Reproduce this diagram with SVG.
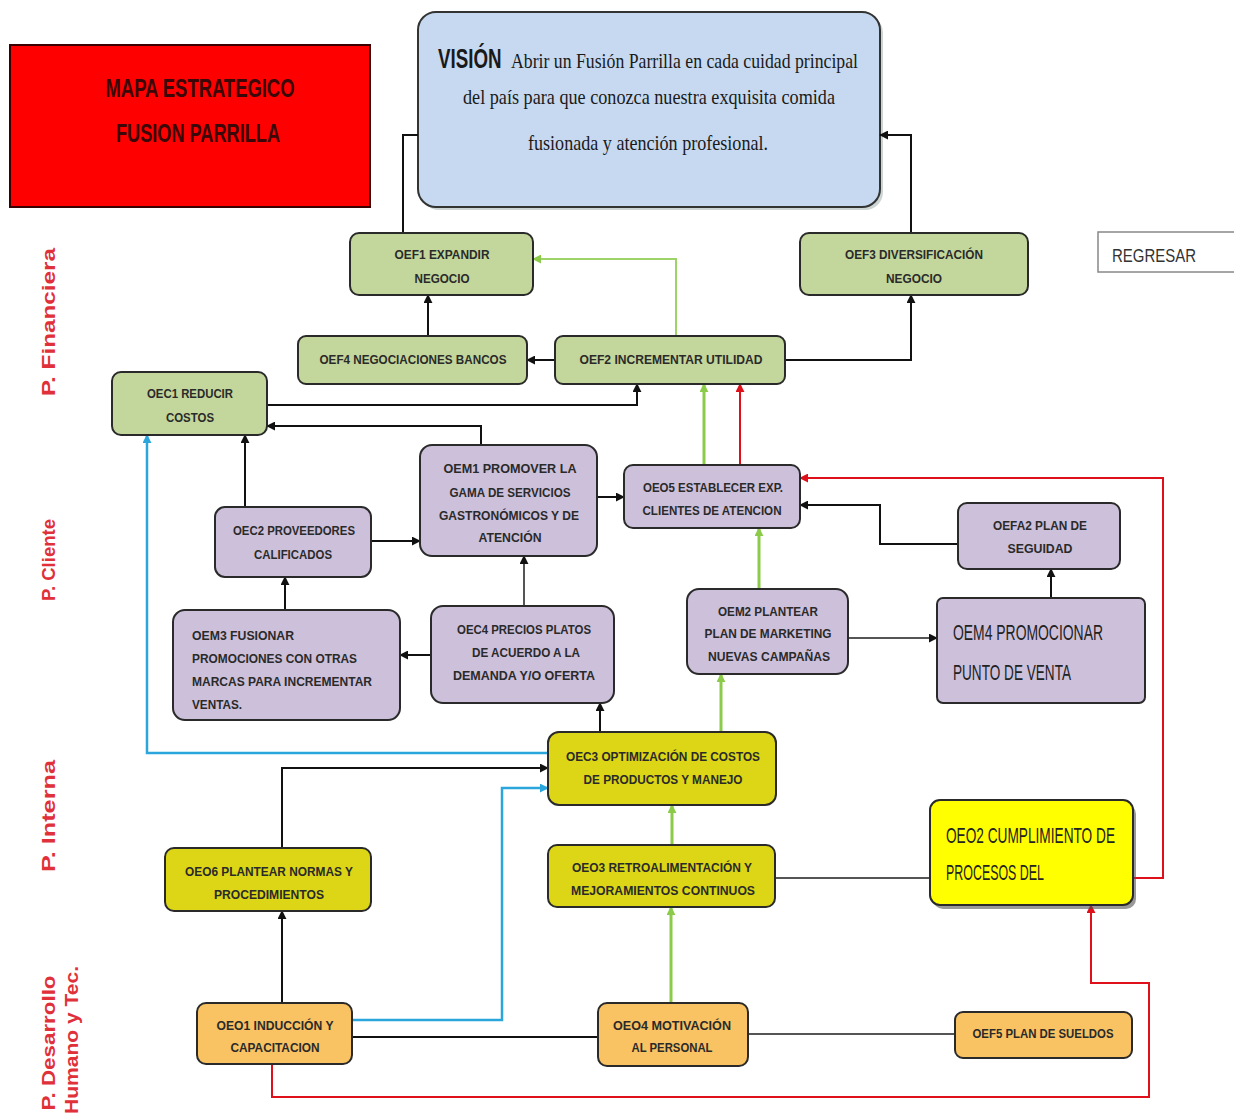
<svg xmlns="http://www.w3.org/2000/svg" width="1234" height="1119" viewBox="0 0 1234 1119">
<defs>
<marker id="ak" viewBox="0 0 10 10" refX="9" refY="5" markerWidth="9" markerHeight="9" markerUnits="userSpaceOnUse" orient="auto"><path d="M0,0 L10,5 L0,10 z" fill="#111"/></marker>
<marker id="ag" viewBox="0 0 10 10" refX="9" refY="5" markerWidth="9" markerHeight="9" markerUnits="userSpaceOnUse" orient="auto"><path d="M0,0 L10,5 L0,10 z" fill="#8ccb4a"/></marker>
<marker id="ar" viewBox="0 0 10 10" refX="9" refY="5" markerWidth="9" markerHeight="9" markerUnits="userSpaceOnUse" orient="auto"><path d="M0,0 L10,5 L0,10 z" fill="#e0101a"/></marker>
<marker id="ac" viewBox="0 0 10 10" refX="9" refY="5" markerWidth="9" markerHeight="9" markerUnits="userSpaceOnUse" orient="auto"><path d="M0,0 L10,5 L0,10 z" fill="#2aa6dc"/></marker>
</defs>
<style>
.box{stroke:#2a2a2a;stroke-width:2}
.g{fill:#c3d69b}
.p{fill:#ccc0da}
.y{fill:#dcd616}
.o{fill:#f9c262}
.t{font-family:"Liberation Sans",Arial,sans-serif;font-weight:bold;font-size:12.5px;fill:#2a2a2a;text-anchor:middle}
.tl{font-family:"Liberation Sans",Arial,sans-serif;font-weight:bold;font-size:12.5px;fill:#2a2a2a}
.big{font-family:"Liberation Sans",Arial,sans-serif;font-size:22px;fill:#222}
.lane{font-family:"Liberation Sans",Arial,sans-serif;font-weight:bold;font-size:19px;fill:#e0303a}
.k{fill:none;stroke:#111;stroke-width:2}
.gr{fill:none;stroke:#555;stroke-width:2}
.gn{fill:none;stroke:#8ccb4a;stroke-width:3}
.gn2{fill:none;stroke:#9ed36a;stroke-width:2}
.rd{fill:none;stroke:#e0101a;stroke-width:2}
.cy{fill:none;stroke:#2aa6dc;stroke-width:2.5}
</style>

<g id="title">
<rect x="10" y="45" width="360" height="162" fill="#ff0000" stroke="#3a0000" stroke-width="2"/>
<text x="200" y="97" font-family="'Liberation Sans',Arial,sans-serif" font-weight="bold" font-size="26" fill="#3a0808" text-anchor="middle" textLength="189" lengthAdjust="spacingAndGlyphs">MAPA ESTRATEGICO</text>
<text x="198" y="142" font-family="'Liberation Sans',Arial,sans-serif" font-weight="bold" font-size="26" fill="#3a0808" text-anchor="middle" textLength="164" lengthAdjust="spacingAndGlyphs">FUSION PARRILLA</text>
</g>

<g id="vision">
<rect x="421" y="15" width="462" height="195" rx="18" fill="#9aa" opacity="0.5"/>
<rect x="418" y="12" width="462" height="195" rx="18" fill="#c6d9f0" stroke="#333" stroke-width="2"/>
<text transform="translate(438,68) scale(0.67,1)" font-family="'Liberation Sans',Arial,sans-serif" font-weight="bold" font-size="28" fill="#1a1a1a">VISIÓN</text>
<text x="511" y="68" font-family="'Liberation Serif','Times New Roman',serif" font-size="22" fill="#1a1a1a" textLength="347" lengthAdjust="spacingAndGlyphs">Abrir un Fusión Parrilla en cada cuidad principal</text>
<text x="463" y="104" font-family="'Liberation Serif','Times New Roman',serif" font-size="22" fill="#1a1a1a" textLength="372" lengthAdjust="spacingAndGlyphs">del país para que conozca nuestra  exquisita comida</text>
<text x="528" y="150" font-family="'Liberation Serif','Times New Roman',serif" font-size="22" fill="#1a1a1a" textLength="240" lengthAdjust="spacingAndGlyphs">fusionada y atención profesional.</text>
</g>

<g id="lanes">
<text class="lane" transform="translate(55,322) rotate(-90)" text-anchor="middle" textLength="148" lengthAdjust="spacingAndGlyphs">P. Financiera</text>
<text class="lane" transform="translate(55,560) rotate(-90)" text-anchor="middle" textLength="82" lengthAdjust="spacingAndGlyphs">P. Cliente</text>
<text class="lane" transform="translate(55,816) rotate(-90)" text-anchor="middle" textLength="112" lengthAdjust="spacingAndGlyphs">P. Interna</text>
<text class="lane" transform="translate(55,1043) rotate(-90)" text-anchor="middle" textLength="135" lengthAdjust="spacingAndGlyphs">P. Desarrollo</text>
<text class="lane" transform="translate(78,1040) rotate(-90)" text-anchor="middle" textLength="148" lengthAdjust="spacingAndGlyphs">Humano y Tec.</text>
</g>

<g id="regresar">
<rect x="1098" y="232" width="140" height="40" fill="#fff" stroke="#888" stroke-width="1.5"/>
<text x="1112" y="262" font-family="'Liberation Sans',Arial,sans-serif" font-size="18" fill="#333" textLength="84" lengthAdjust="spacingAndGlyphs">REGRESAR</text>
</g>

<g id="connectors">
<path class="k" d="M403,233 V135 H418"/>
<path class="k" d="M911,233 V135 H880" marker-end="url(#ak)"/>
<path class="k" d="M428,336 V295" marker-end="url(#ak)"/>
<path class="k" d="M555,360 H527" marker-end="url(#ak)"/>
<path class="gn2" d="M676,336 V259 H533" marker-end="url(#ag)"/>
<path class="k" d="M785,360 H911 V295" marker-end="url(#ak)"/>
<path class="k" d="M267,405 H637 V384" marker-end="url(#ak)"/>
<path class="k" d="M481,445 V426 H267" marker-end="url(#ak)"/>
<path class="k" d="M245,507 V435" marker-end="url(#ak)"/>
<path class="cy" d="M548,753 H147 V435" marker-end="url(#ac)"/>
<path class="gn" d="M704,465 V384" marker-end="url(#ag)"/>
<path class="rd" d="M740,465 V384" marker-end="url(#ar)"/>
<path class="rd" d="M1133,878 H1163 V478 H800" marker-end="url(#ar)"/>
<path class="k" d="M958,544 H880 V505 H800" marker-end="url(#ak)"/>
<path class="k" d="M597,497 H624" stroke-width="3" marker-end="url(#ak)"/>
<path class="k" d="M371,541 H420" marker-end="url(#ak)"/>
<path class="k" d="M285,610 V577" marker-end="url(#ak)"/>
<path class="gr" d="M524,606 V556" marker-end="url(#ak)"/>
<path class="k" d="M431,655 H400" marker-end="url(#ak)"/>
<path class="gn" d="M759,589 V528" marker-end="url(#ag)"/>
<path class="gr" d="M848,638 H937" stroke-width="2.5" marker-end="url(#ak)"/>
<path class="k" d="M1051,598 V569" marker-end="url(#ak)"/>
<path class="k" d="M600,732 V703" marker-end="url(#ak)"/>
<path class="gn" d="M721,732 V674" marker-end="url(#ag)"/>
<path class="k" d="M282,848 V768 H548" marker-end="url(#ak)"/>
<path class="cy" d="M352,1020 H502 V788 H548" marker-end="url(#ac)"/>
<path class="gn" d="M672,845 V805" marker-end="url(#ag)"/>
<path class="gr" d="M775,878 H930"/>
<path class="k" d="M282,1003 V911" marker-end="url(#ak)"/>
<path class="gn" d="M671,1003 V907" marker-end="url(#ag)"/>
<path class="k" d="M352,1037 H598" stroke-width="3"/>
<path class="gr" d="M748,1034 H955"/>
<path class="rd" d="M272,1064 V1097 H1149 V983 H1091 V905" marker-end="url(#ar)"/>
</g>

<g id="OEF1"><rect class="box g" x="350" y="233" width="183" height="62" rx="9"/>
<text class="t" x="442" y="259" textLength="95" lengthAdjust="spacingAndGlyphs">OEF1 EXPANDIR</text>
<text class="t" x="442" y="283" textLength="55" lengthAdjust="spacingAndGlyphs">NEGOCIO</text></g>

<g id="OEF3"><rect class="box g" x="800" y="233" width="228" height="62" rx="9"/>
<text class="t" x="914" y="259" textLength="138" lengthAdjust="spacingAndGlyphs">OEF3 DIVERSIFICACIÓN</text>
<text class="t" x="914" y="283" textLength="56" lengthAdjust="spacingAndGlyphs">NEGOCIO</text></g>

<g id="OEF4"><rect class="box g" x="298" y="336" width="229" height="48" rx="8"/>
<text class="t" x="413" y="364" textLength="187" lengthAdjust="spacingAndGlyphs">OEF4 NEGOCIACIONES BANCOS</text></g>

<g id="OEF2"><rect class="box g" x="555" y="336" width="230" height="48" rx="8"/>
<text class="t" x="671" y="364" textLength="183" lengthAdjust="spacingAndGlyphs">OEF2 INCREMENTAR UTILIDAD</text></g>

<g id="OEC1"><rect class="box g" x="112" y="372" width="155" height="63" rx="9"/>
<text class="t" x="190" y="398" textLength="86" lengthAdjust="spacingAndGlyphs">OEC1 REDUCIR</text>
<text class="t" x="190" y="422" textLength="48" lengthAdjust="spacingAndGlyphs">COSTOS</text></g>

<g id="OEM1"><rect class="box p" x="420" y="445" width="177" height="111" rx="12"/>
<text class="t" x="510" y="473" textLength="133" lengthAdjust="spacingAndGlyphs">OEM1 PROMOVER  LA</text>
<text class="t" x="510" y="497" textLength="121" lengthAdjust="spacingAndGlyphs">GAMA DE SERVICIOS</text>
<text class="t" x="509" y="520" textLength="140" lengthAdjust="spacingAndGlyphs">GASTRONÓMICOS Y DE</text>
<text class="t" x="510" y="542" textLength="63" lengthAdjust="spacingAndGlyphs">ATENCIÓN</text></g>

<g id="OEO5"><rect class="box p" x="624" y="465" width="176" height="63" rx="9"/>
<text class="t" x="713" y="492" textLength="140" lengthAdjust="spacingAndGlyphs">OEO5 ESTABLECER EXP.</text>
<text class="t" x="712" y="515" textLength="139" lengthAdjust="spacingAndGlyphs">CLIENTES DE ATENCION</text></g>

<g id="OEC2"><rect class="box p" x="215" y="507" width="156" height="70" rx="10"/>
<text class="t" x="294" y="535" textLength="122" lengthAdjust="spacingAndGlyphs">OEC2 PROVEEDORES</text>
<text class="t" x="293" y="559" textLength="78" lengthAdjust="spacingAndGlyphs">CALIFICADOS</text></g>

<g id="OEFA2"><rect class="box p" x="958" y="503" width="162" height="66" rx="9"/>
<text class="t" x="1040" y="530" textLength="94" lengthAdjust="spacingAndGlyphs">OEFA2 PLAN DE</text>
<text class="t" x="1040" y="553" textLength="65" lengthAdjust="spacingAndGlyphs">SEGUIDAD</text></g>

<g id="OEM3"><rect class="box p" x="173" y="610" width="227" height="110" rx="12"/>
<text class="tl" x="192" y="640" textLength="102" lengthAdjust="spacingAndGlyphs">OEM3 FUSIONAR</text>
<text class="tl" x="192" y="663" textLength="165" lengthAdjust="spacingAndGlyphs">PROMOCIONES CON OTRAS</text>
<text class="tl" x="192" y="686" textLength="180" lengthAdjust="spacingAndGlyphs">MARCAS PARA INCREMENTAR</text>
<text class="tl" x="192" y="709" textLength="50" lengthAdjust="spacingAndGlyphs">VENTAS.</text></g>

<g id="OEC4"><rect class="box p" x="431" y="606" width="183" height="97" rx="12"/>
<text class="t" x="524" y="634" textLength="134" lengthAdjust="spacingAndGlyphs">OEC4 PRECIOS PLATOS</text>
<text class="t" x="526" y="657" textLength="108" lengthAdjust="spacingAndGlyphs">DE ACUERDO A LA</text>
<text class="t" x="524" y="680" textLength="142" lengthAdjust="spacingAndGlyphs">DEMANDA Y/O OFERTA</text></g>

<g id="OEM2"><rect class="box p" x="687" y="589" width="161" height="85" rx="12"/>
<text class="t" x="768" y="616" textLength="100" lengthAdjust="spacingAndGlyphs">OEM2 PLANTEAR</text>
<text class="t" x="768" y="638" textLength="127" lengthAdjust="spacingAndGlyphs">PLAN DE MARKETING</text>
<text class="t" x="769" y="661" textLength="122" lengthAdjust="spacingAndGlyphs">NUEVAS CAMPAÑAS</text></g>

<g id="OEM4"><rect class="box p" x="937" y="598" width="208" height="105" rx="6"/>
<text class="big" x="953" y="640" textLength="150" lengthAdjust="spacingAndGlyphs">OEM4 PROMOCIONAR</text>
<text class="big" x="953" y="680" textLength="118" lengthAdjust="spacingAndGlyphs">PUNTO DE VENTA</text></g>

<g id="OEC3"><rect class="box y" x="548" y="732" width="228" height="73" rx="11"/>
<text class="t" x="663" y="761" textLength="194" lengthAdjust="spacingAndGlyphs">OEC3 OPTIMIZACIÓN DE COSTOS</text>
<text class="t" x="663" y="784" textLength="159" lengthAdjust="spacingAndGlyphs">DE PRODUCTOS Y MANEJO</text></g>

<g id="OEO6"><rect class="box y" x="165" y="848" width="206" height="63" rx="9"/>
<text class="t" x="269" y="876" textLength="168" lengthAdjust="spacingAndGlyphs">OEO6 PLANTEAR NORMAS Y</text>
<text class="t" x="269" y="899" textLength="110" lengthAdjust="spacingAndGlyphs">PROCEDIMIENTOS</text></g>

<g id="OEO3"><rect class="box y" x="548" y="845" width="227" height="62" rx="9"/>
<text class="t" x="662" y="872" textLength="180" lengthAdjust="spacingAndGlyphs">OEO3 RETROALIMENTACIÓN Y</text>
<text class="t" x="663" y="895" textLength="184" lengthAdjust="spacingAndGlyphs">MEJORAMIENTOS CONTINUOS</text></g>

<g id="OEO2"><rect x="933" y="804" width="203" height="105" rx="10" fill="#555" opacity="0.6"/>
<rect class="box" x="930" y="800" width="203" height="105" rx="10" fill="#ffff00"/>
<text class="big" x="946" y="843" textLength="169" lengthAdjust="spacingAndGlyphs">OEO2 CUMPLIMIENTO DE</text>
<text class="big" x="946" y="880" textLength="98" lengthAdjust="spacingAndGlyphs">PROCESOS DEL</text></g>

<g id="OEO1"><rect class="box o" x="197" y="1003" width="155" height="61" rx="9"/>
<text class="t" x="275" y="1030" textLength="117" lengthAdjust="spacingAndGlyphs">OEO1 INDUCCIÓN Y</text>
<text class="t" x="275" y="1052" textLength="89" lengthAdjust="spacingAndGlyphs">CAPACITACION</text></g>

<g id="OEO4"><rect class="box o" x="598" y="1003" width="150" height="63" rx="9"/>
<text class="t" x="672" y="1030" textLength="118" lengthAdjust="spacingAndGlyphs">OEO4 MOTIVACIÓN</text>
<text class="t" x="672" y="1052" textLength="81" lengthAdjust="spacingAndGlyphs">AL PERSONAL</text></g>

<g id="OEF5"><rect class="box o" x="955" y="1012" width="177" height="46" rx="8"/>
<text class="t" x="1043" y="1038" textLength="141" lengthAdjust="spacingAndGlyphs">OEF5 PLAN DE SUELDOS</text></g>
</svg>
